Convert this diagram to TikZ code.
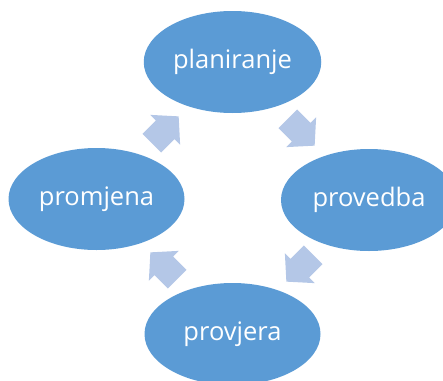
\documentclass[tikz,border=0pt]{standalone}
\usepackage{fontspec}
\setmainfont{Open Sans}
\usetikzlibrary{shapes.geometric,shapes.arrows}
\definecolor{stageblue}{RGB}{91,155,213}
\definecolor{arrowblue}{RGB}{180,199,231}
\tikzset{
  stage/.style={ellipse, fill=stageblue, text=white, minimum width=176pt,
    minimum height=102pt, font=\fontsize{25.5}{30}\selectfont},
  turn/.style={single arrow, fill=arrowblue, inner xsep=0pt, inner ysep=13pt,
    minimum height=38pt, single arrow head extend=8pt, single arrow tip angle=96}
}
\begin{document}
\begin{tikzpicture}[x=1pt,y=-1pt]
            \clip (0,0) rectangle (443,380);
            \node[stage] (plan) at (232.5,62) {planiranje};
            \node[stage] (proved) at (369,200) {provedba};
            \node[stage] (provj) at (232.5,334) {provjera};
            \node[stage] (prom) at (96.5,199) {promjena};
            \node[turn, rotate=45] (t1) at (161,134) {};
            \node[turn, rotate=-45] (t2) at (297,128) {};
            \node[turn, rotate=-135] (t3) at (304,264) {};
            \node[turn, rotate=135] (t4) at (168,270) {};
\end{tikzpicture}
\end{document}
